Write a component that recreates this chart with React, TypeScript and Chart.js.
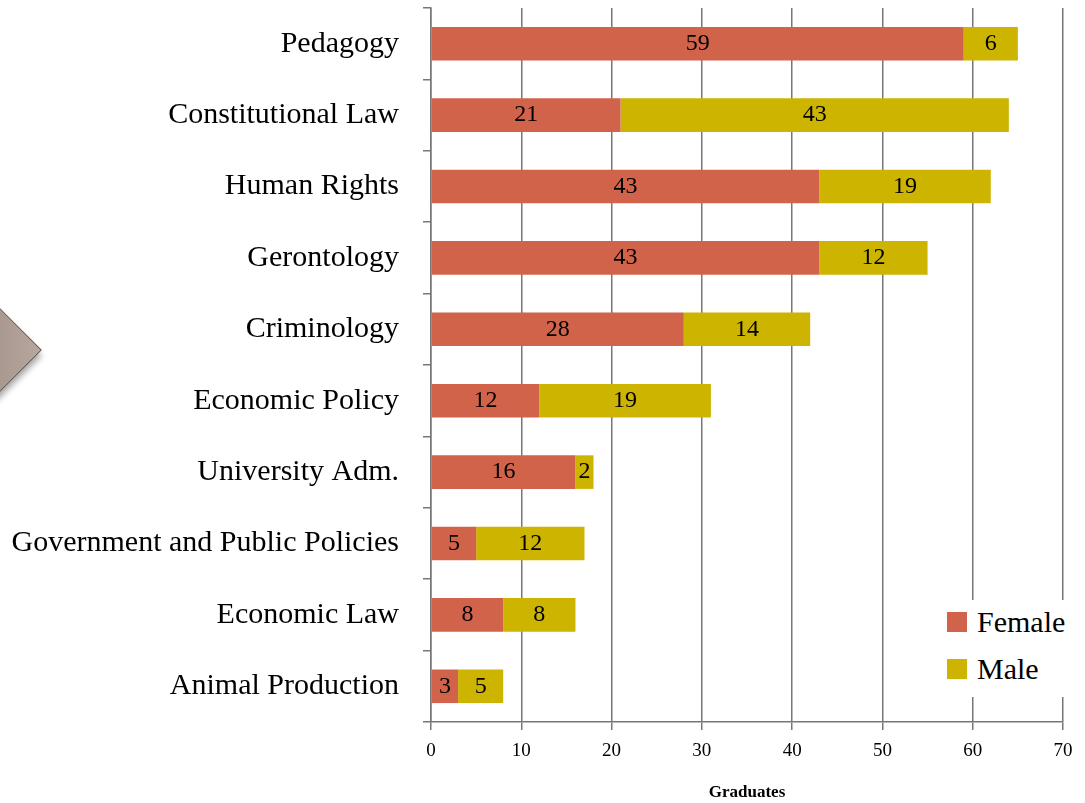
import React, { useEffect, useRef } from "react";
import { Chart, registerables } from "chart.js";
Chart.register(...registerables);

const categories = [
  "Pedagogy",
  "Constitutional Law",
  "Human Rights",
  "Gerontology",
  "Criminology",
  "Economic Policy",
  "University Adm.",
  "Government and Public Policies",
  "Economic Law",
  "Animal Production",
];
const femaleValues = [59, 21, 43, 43, 28, 12, 16, 5, 8, 3];
const maleValues = [6, 43, 19, 12, 14, 19, 2, 12, 8, 5];
const seriesNames = ["Female", "Male"];
const seriesColors = ["#D2634B", "#CDB400"];
const axisTitle = "Graduates";

const SERIF = '"Liberation Serif", "Times New Roman", serif';
const GRID = "#777777";

const segLabels = {
  id: "segLabels",
  afterDatasetsDraw(chart: any) {
    const ctx = chart.ctx;
    ctx.save();
    ctx.font = `24px ${SERIF}`;
    ctx.fillStyle = "#000";
    ctx.textAlign = "center";
    ctx.textBaseline = "middle";
    chart.data.datasets.forEach((ds: any, i: number) => {
      const meta = chart.getDatasetMeta(i);
      meta.data.forEach((el: any, j: number) => {
        const p = el.getProps(["x", "base", "y"], true);
        ctx.fillText(String(ds.data[j]), (p.x + p.base) / 2, p.y);
      });
    });
    ctx.restore();
  },
};

export default function App() {
  const ref = useRef<HTMLCanvasElement>(null);
  useEffect(() => {
    document.body.style.margin = "0";
    const chart = new Chart(ref.current!, {
      type: "bar",
      data: {
        labels: categories,
        datasets: [
          { label: seriesNames[0], data: femaleValues, backgroundColor: seriesColors[0], borderWidth: 0 },
          { label: seriesNames[1], data: maleValues, backgroundColor: seriesColors[1], borderWidth: 0 },
        ],
      },
      options: {
        indexAxis: "y",
        animation: false,
        responsive: false,
        maintainAspectRatio: false,
        layout: { padding: { top: 8, right: 22, left: 0, bottom: 0 } },
        datasets: { bar: { barPercentage: 0.47, categoryPercentage: 1 } },
        plugins: { legend: { display: false }, tooltip: { enabled: false } },
        scales: {
          x: {
            stacked: true,
            min: 0,
            max: 70,
            ticks: { stepSize: 10, color: "#000", font: { family: SERIF, size: 19 }, padding: 10 },
            grid: { color: GRID, lineWidth: 1.5, tickLength: 8 },
            border: { color: GRID, width: 1.5 },
            title: {
              display: true,
              text: axisTitle,
              color: "#000",
              font: { family: SERIF, size: 17, weight: "bold" },
              padding: { top: 0, bottom: 0 },
            },
            afterFit: (s: any) => {
              s.height = 81;
              s.paddingLeft = 0;
              s.paddingRight = 0;
            },
          },
          y: {
            stacked: true,
            ticks: { color: "#000", font: { family: SERIF, size: 30 }, padding: 24 },
            grid: { drawOnChartArea: false, offset: true, tickLength: 8, color: GRID, lineWidth: 1.5 },
            border: { color: GRID, width: 1.5 },
            afterFit: (s: any) => {
              s.width = 431;
              s.paddingTop = 0;
              s.paddingBottom = 0;
            },
          },
        },
      },
      plugins: [segLabels],
    });
    return () => chart.destroy();
  }, []);

  return (
    <div style={{ position: "relative", width: 1085, height: 803, background: "#fff", overflow: "hidden" }}>
      <div
        style={{
          position: "absolute",
          left: -20 - 42,
          top: 349 - 42,
          width: 84,
          height: 84,
          transform: "rotate(45deg)",
          background: "linear-gradient(45deg, #8d7c72, #b7a79e)",
          border: "1.5px solid #5e4d44",
          boxShadow: "4px 4px 6px rgba(0,0,0,0.35)",
        }}
      />
      <canvas ref={ref} width={1085} height={803} style={{ position: "absolute", left: 0, top: 0 }} />
      <div
        style={{
          position: "absolute",
          left: 908,
          top: 600,
          width: 177,
          height: 97,
          background: "#fff",
          fontFamily: SERIF,
          fontSize: 30,
          color: "#000",
        }}
      >
        {seriesNames.map((n, i) => (
          <div key={n} style={{ position: "absolute", left: 39, top: 6 + i * 47, height: 32, display: "flex", alignItems: "center" }}>
            <span style={{ display: "inline-block", width: 20, height: 20, background: seriesColors[i], marginRight: 10 }} />
            <span>{n}</span>
          </div>
        ))}
      </div>
    </div>
  );
}
